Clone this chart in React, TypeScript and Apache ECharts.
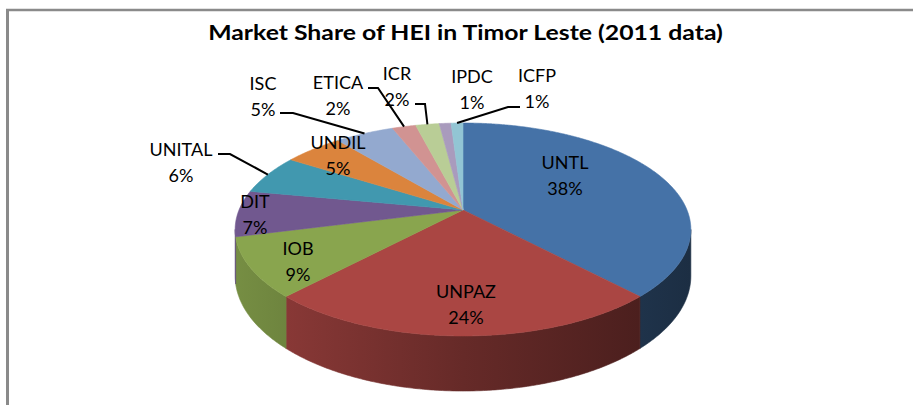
import React, { useEffect, useRef } from "react";
import * as echarts from "echarts";

// ---- data ----
const categories = ["UNTL", "UNPAZ", "IOB", "DIT", "UNITAL", "UNDIL", "ISC", "ETICA", "ICR", "IPDC", "ICFP"];
const shares = [38, 24, 9, 7, 6, 5, 5, 2, 2, 1, 1];
const sliceColors = ["#4572A7", "#AA4643", "#89A54E", "#71588F", "#4198AF", "#DB843D", "#93A9CF", "#D19392", "#B9CD96", "#A99BBD", "#92C5D4"];
const chartTitle = "Market Share of HEI in Timor Leste (2011 data)";

// ---- label layout (pixel anchors, leader elbow points) ----
const labelLayout: { x: number; y: number; leader?: [number, number][] }[] = [
  { x: 565, y: 175 },
  { x: 466, y: 304 },
  { x: 298, y: 261 },
  { x: 255, y: 214 },
  { x: 181, y: 162, leader: [[218, 154], [230, 154]] },
  { x: 338, y: 155 },
  { x: 263, y: 96, leader: [[280, 113], [293, 113]] },
  { x: 338, y: 95, leader: [[368, 88], [378, 88]] },
  { x: 397, y: 86, leader: [[415, 104], [425, 104]] },
  { x: 472, y: 89 },
  { x: 537, y: 88, leader: [[520, 107], [508, 107]] },
];

// ---- projection of the tilted disk ----
const CX = 463, CY = 210, A = 224, B = 102.9, E = 0.183, D = 45;
function proj(thetaDeg: number, depth: number): [number, number] {
  const t = (thetaDeg * Math.PI) / 180;
  const u = Math.sin(t), v = Math.cos(t);
  const w = 1 + E * v;
  return [CX + (A * u) / w, CY - (B * v) / w + (D * depth) / w];
}
function arc(t0: number, t1: number, depth: number): [number, number][] {
  const n = Math.max(2, Math.ceil(Math.abs(t1 - t0) / 0.5));
  const pts: [number, number][] = [];
  for (let k = 0; k <= n; k++) pts.push(proj(t0 + ((t1 - t0) * k) / n, depth));
  return pts;
}
function shade(hex: string, f: number) {
  const n = parseInt(hex.slice(1), 16);
  const r = Math.round(((n >> 16) & 255) * f), g = Math.round(((n >> 8) & 255) * f), b = Math.round((n & 255) * f);
  return `rgb(${r},${g},${b})`;
}

export default function App() {
  const ref = useRef<HTMLDivElement>(null);
  useEffect(() => {
    if (!ref.current) return;
    const chart = echarts.init(ref.current, null, { renderer: "svg" });
    const total = shares.reduce((a, b) => a + b, 0);
    const cum: number[] = [0];
    shares.forEach((s) => cum.push(cum[cum.length - 1] + s));
    const sil = (Math.acos(-E) * 180) / Math.PI; // right silhouette angle
    const silL = 360 - sil;
    const xL = proj(silL, 0)[0], xR = proj(sil, 0)[0];

    const renderItem = (params: any, api: any) => {
      const i = params.dataIndex;
      const t0 = (cum[i] / total) * 360;
      const t1 = (cum[i + 1] / total) * 360;
      const color = sliceColors[i];
      const children: any[] = [];
      const top = [[CX, CY] as [number, number], ...arc(t0, t1, 0)];
      children.push({ type: "polygon", z2: 10, shape: { points: top }, style: { fill: color, stroke: color, lineWidth: 0.6 } });
      const w0 = Math.max(t0, sil), w1 = Math.min(t1, silL);
      if (w1 > w0) {
        const pts = [...arc(w0, w1, 0), ...arc(w1, w0, 1)];
        const grad = new echarts.graphic.LinearGradient(xL, 0, xR, 0, [
          { offset: 0, color: shade(color, 0.86) },
          { offset: 0.5, color: shade(color, 0.6) },
          { offset: 1, color: shade(color, 0.4) },
        ], true);
        children.push({ type: "polygon", z2: 1, shape: { points: pts }, style: { fill: grad, stroke: grad, lineWidth: 0.6 } });
      }
      const lay = labelLayout[i];
      const pct = Math.round((api.value(0) / total) * 100);
      children.push({
        type: "text", z2: 30, x: lay.x, y: lay.y,
        style: { text: `${categories[i]}\n${pct}%`, fill: "#000", fontFamily: "Lato", fontSize: 18, lineHeight: 26, align: "center", verticalAlign: "middle" },
      });
      if (lay.leader) {
        const mid = proj((t0 + t1) / 2, 0);
        children.push({ type: "polyline", z2: 25, shape: { points: [...lay.leader, mid] }, style: { stroke: "#000", lineWidth: 2, fill: null } });
      }
      return { type: "group", children };
    };

    chart.setOption({
      animation: false,
      backgroundColor: "#fff",
      graphic: [
        { type: "line", shape: { x1: 6, y1: 10, x2: 913, y2: 10 }, style: { stroke: "#8a8a8a", lineWidth: 2.5 } },
        { type: "line", shape: { x1: 7.5, y1: 9, x2: 7.5, y2: 405 }, style: { stroke: "#8a8a8a", lineWidth: 3 } },
        { type: "text", x: 465.5, y: 32, scaleX: 1.18, style: { text: chartTitle, fill: "#000", fontFamily: "Lato", fontWeight: "bold", fontSize: 21, align: "center", verticalAlign: "middle" } },
      ],
      series: [
        {
          type: "custom",
          coordinateSystem: "none",
          renderItem,
          data: shares.map((s, i) => ({ name: categories[i], value: [s] })),
        },
      ],
    });
    return () => chart.dispose();
  }, []);
  return <div ref={ref} style={{ position: "fixed", left: 0, top: 0, width: 913, height: 405 }} />;
}
